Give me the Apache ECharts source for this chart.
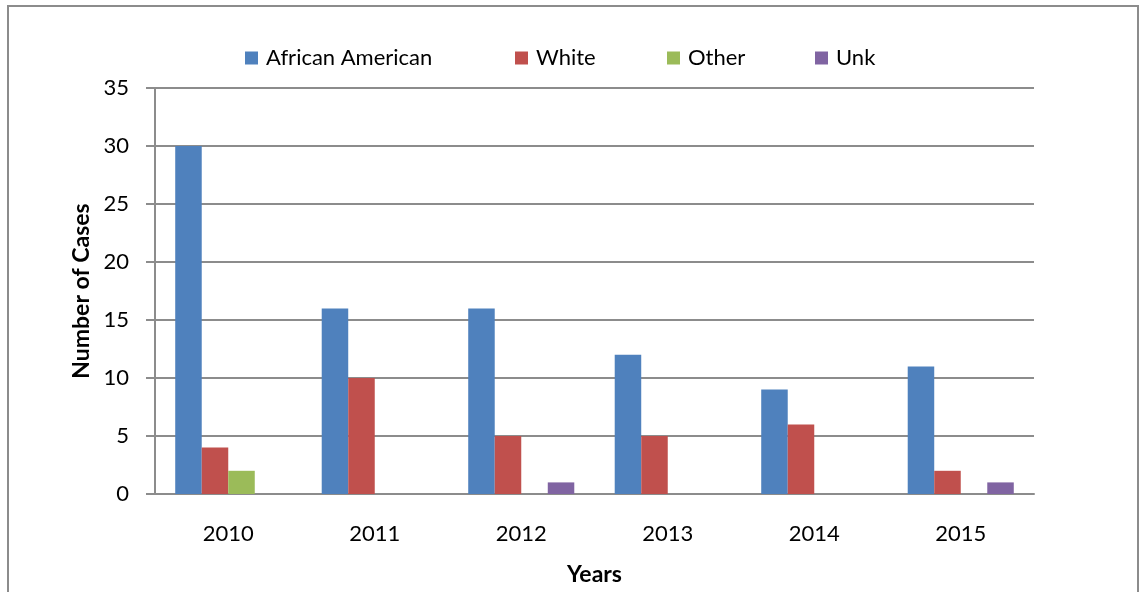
<!DOCTYPE html>
<html>
<head>
<meta charset="utf-8">
<script src="https://cdn.jsdelivr.net/npm/echarts@6/dist/echarts.min.js"></script>
<style>
  html, body { margin: 0; padding: 0; background: #fff; }
  #chart { width: 1142px; height: 592px; }
</style>
</head>
<body>
<div id="chart"></div>
<script>
// 数据
const years = ['2010', '2011', '2012', '2013', '2014', '2015'];
const seriesNames = ['African American', 'White', 'Other', 'Unk'];
const africanAmerican = [30, 16, 16, 12, 9, 11];
const white = [4, 10, 5, 5, 6, 2];
const other = [2, 0, 0, 0, 0, 0];
const unk = [0, 0, 1, 0, 0, 1];

const FONT = 'Lato, "Open Sans", sans-serif';
const GRID_GRAY = '#8c8c8c';
const COLORS = ['#4F81BD', '#C0504D', '#9BBB59', '#8064A2'];
// 图例各项的左边距（和原图对齐）
const legendLefts = [245, 515, 667, 815];

const chart = echarts.init(document.getElementById('chart'));

function barSeries(name, data, color) {
  return {
    name: name,
    type: 'bar',
    data: data,
    barGap: '0%',
    barCategoryGap: '27.6%',
    itemStyle: { color: color },
    emphasis: { disabled: true }
  };
}

const legends = seriesNames.map((name, i) => ({
  top: 47,
  left: legendLefts[i],
  padding: 0,
  itemWidth: 13,
  itemHeight: 13,
  icon: 'rect',
  textStyle: { fontFamily: FONT, fontSize: 22, color: '#000', padding: [0, 0, 0, 3] },
  data: [name]
}));

chart.setOption({
  animation: false,
  textStyle: { fontFamily: FONT, color: '#000' },
  graphic: [{
    type: 'rect',
    shape: { x: 8, y: 6, width: 1130, height: 600 },
    style: { fill: 'none', stroke: GRID_GRAY, lineWidth: 2 },
    silent: true
  }],
  legend: legends,
  grid: { left: 155, right: 108, top: 88, bottom: 98 },
  xAxis: {
    type: 'category',
    data: years,
    name: 'Years',
    nameLocation: 'middle',
    nameGap: 69,
    nameTextStyle: { fontFamily: FONT, fontSize: 23, fontWeight: 'bold', color: '#000' },
    axisLine: { lineStyle: { color: GRID_GRAY, width: 2 } },
    axisTick: { show: false },
    axisLabel: { fontFamily: FONT, fontSize: 22, color: '#000', margin: 29 },
  },
  yAxis: {
    type: 'value',
    min: 0,
    max: 35,
    interval: 5,
    name: 'Number of Cases',
    nameLocation: 'middle',
    nameRotate: 90,
    nameGap: 62,
    nameTextStyle: { fontFamily: FONT, fontSize: 23, fontWeight: 'bold', color: '#000' },
    axisLine: { show: true, lineStyle: { color: GRID_GRAY, width: 2 } },
    axisTick: { show: true, length: 9, lineStyle: { color: GRID_GRAY, width: 2 } },
    axisLabel: { fontFamily: FONT, fontSize: 22, color: '#000', margin: 26 },
    splitLine: { lineStyle: { color: GRID_GRAY, width: 2 } }
  },
  series: [
    barSeries(seriesNames[0], africanAmerican, COLORS[0]),
    barSeries(seriesNames[1], white, COLORS[1]),
    barSeries(seriesNames[2], other, COLORS[2]),
    barSeries(seriesNames[3], unk, COLORS[3])
  ]
});
</script>
</body>
</html>
